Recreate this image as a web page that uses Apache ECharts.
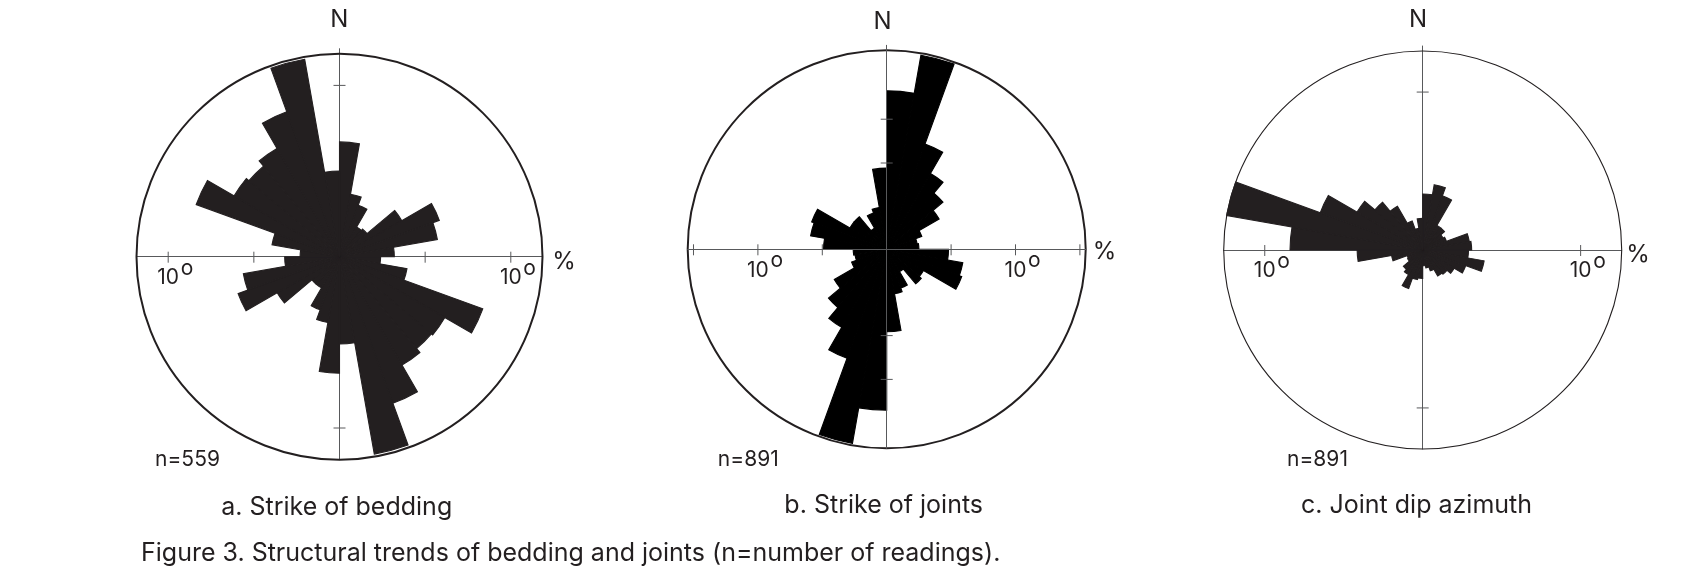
<!DOCTYPE html>
<html>
<head>
<meta charset="utf-8">
<script src="https://cdn.jsdelivr.net/npm/echarts@6/dist/echarts.min.js"></script>
<style>
html,body{margin:0;padding:0;background:#fff;}
#chart{width:1698px;height:586px;}
</style>
</head>
<body>
<div id="chart"></div>
<script>
// 10-degree azimuth bins, clockwise from north
const binLabels = ['0','10','20','30','40','50','60','70','80','90','100','110','120','130','140','150','160','170',
                   '180','190','200','210','220','230','240','250','260','270','280','290','300','310','320','330','340','350'];
// percent of readings per bin
const beddingStrike = [6.7, 3.7, 3.2, 2.0, 2.1, 4.2, 6.2, 5.8, 3.2, 2.4, 4.0, 8.9, 7.1, 7.0, 7.3, 9.1, 11.7, 5.1,
                       6.8, 3.9, 3.3, 2.1, 2.1, 4.2, 6.3, 5.7, 3.2, 2.3, 4.0, 8.9, 7.1, 6.9, 7.3, 9.0, 11.7, 5.0];
const jointStrike = [12.3, 15.3, 8.7, 6.8, 5.7, 4.7, 2.9, 2.4, 2.5, 4.8, 6.0, 6.2, 3.3, 3.5, 2.0, 3.2, 3.5, 6.4,
                     12.5, 15.3, 9.0, 7.0, 5.9, 4.7, 2.9, 2.5, 2.6, 4.9, 6.0, 6.2, 3.3, 3.3, 1.9, 3.0, 3.3, 6.3];
const jointDipAzimuth = [3.55, 4.2, 3.65, 1.8, 1.8, 1.5, 1.6, 3.0, 3.1, 2.9, 3.95, 2.9, 2.3, 2.0, 1.9, 1.4, 1.15, 1.0,
                         1.8, 1.9, 2.6, 1.8, 1.6, 1.1, 1.05, 2.0, 4.15, 8.4, 12.6, 6.9, 4.8, 3.95, 3.2, 1.95, 1.4, 2.0];
// scale maxima (percent at circle edge)
const scaleMax = [11.85, 15.45, 12.6];
// tick positions (percent) on horizontal (E-W) and vertical (N-S) axes
const hTicks = [[5, 10], [5, 10, 15], [10]];
const vTicks = [[10], [6.7, 10.1], [10]];
const labelledTick = 10;
const tickLabel = '10';
const titles = ['a. Strike of bedding', 'b. Strike of joints', 'c. Joint dip azimuth'];
const counts = ['n=559', 'n=891', 'n=891'];
const caption = 'Figure 3. Structural trends of bedding and joints (n=number of readings).';

// ---- layout / style ----
const seriesData = [beddingStrike, jointStrike, jointDipAzimuth];
const centers = [[339.5, 256.7], [886.7, 249.3], [1422.7, 250]];
const radii = [203, 199, 199];
const barColors = ['#231f20', '#000000', '#231f20'];
const circleWidth = [2, 2, 1.1];
const axisColor = '#58595b';
const textColor = '#231f20';
const FONT = 'Inter, "Liberation Sans", Arial, sans-serif';

const polar = [], angleAxis = [], radiusAxis = [], series = [];
const rayAngles = [90, 0, 270, 180]; // N, E, S, W

for (let i = 0; i < 3; i++) {
  const c = centers[i], R = radii[i];
  // main polar: bars + outer circle
  const mainIdx = polar.length;
  polar.push({ center: c, radius: R });
  angleAxis.push({
    polarIndex: mainIdx, type: 'category', data: binLabels, startAngle: 90, clockwise: true,
    axisLine: { show: true, lineStyle: { color: textColor, width: circleWidth[i] } },
    axisTick: { show: false }, axisLabel: { show: false }, splitLine: { show: false }, z: 1
  });
  radiusAxis.push({ polarIndex: mainIdx, type: 'value', min: 0, max: scaleMax[i], show: false });
  series.push({
    type: 'bar', coordinateSystem: 'polar', polarIndex: mainIdx, data: seriesData[i],
    barCategoryGap: '0%', silent: true, animation: false, z: 2,
    itemStyle: { color: barColors[i], borderColor: barColors[i], borderWidth: 1.1 }
  });
  // four rays (cross axes)
  let eastIdx = 0;
  rayAngles.forEach((a) => {
    const idx = polar.length;
    const ext = a === 90 ? 5 : 0;
    polar.push({ center: c, radius: R + ext });
    angleAxis.push({ polarIndex: idx, type: 'value', min: 0, max: 360, startAngle: a, clockwise: true, show: false });
    radiusAxis.push({
      polarIndex: idx, type: 'value', min: 0, max: scaleMax[i] * (R + ext) / R,
      axisLine: { show: true, lineStyle: { color: axisColor, width: 1 } },
      axisTick: { show: false }, axisLabel: { show: false }, splitLine: { show: false },
      z: i === 1 ? 5 : 0
    });
    if (a === 0) eastIdx = idx;
  });
  // ticks and tick labels drawn through the east ray's polar scale
  const tickData = [];
  hTicks[i].forEach(t => { tickData.push([t, 0, t === labelledTick ? 1 : 0]); tickData.push([t, 180, t === labelledTick ? 1 : 0]); });
  vTicks[i].forEach(t => { tickData.push([t, 90, 0]); tickData.push([t, 270, 0]); });
  series.push({
    type: 'custom', coordinateSystem: 'polar', polarIndex: eastIdx, data: tickData, silent: true,
    animation: false, z: 6,
    renderItem: function (params, api) {
      const r = api.value(0), ang = api.value(1), lab = api.value(2);
      const p = api.coord([r, ang]);
      const horiz = (ang === 0 || ang === 180);
      const st = { stroke: axisColor, lineWidth: 1 };
      const ch = [];
      if (horiz) ch.push({ type: 'line', shape: { x1: p[0], y1: p[1] - 5, x2: p[0], y2: p[1] + 6 }, style: st });
      else ch.push({ type: 'line', shape: { x1: p[0] - 6, y1: p[1], x2: p[0] + 6, y2: p[1] }, style: st });
      if (lab) {
        ch.push({ type: 'text', x: p[0], y: p[1] + 21, style: { text: tickLabel, font: '21px ' + FONT, fill: textColor, align: 'center', verticalAlign: 'middle' } });
        ch.push({ type: 'text', x: p[0] + 12.5, y: p[1] + 11.5, style: { text: 'o', font: '21px ' + FONT, fill: textColor, align: 'left', verticalAlign: 'middle' } });
      }
      return { type: 'group', children: ch };
    }
  });
}

const nPos = [[339.2, 20], [882.5, 21.5], [1418, 19.5]];
const pctPos = [[564, 262], [1104.5, 252], [1638, 255]];
const countPos = [[187.5, 460], [748.3, 460], [1317.5, 460]];
const titlePos = [[336.7, 507.5], [883.7, 505], [1416.5, 505]];
const graphic = [];
for (let i = 0; i < 3; i++) {
  graphic.push({ type: 'text', x: nPos[i][0], y: nPos[i][1], style: { text: 'N', font: '24px ' + FONT, fill: textColor, align: 'center', verticalAlign: 'middle' } });
  graphic.push({ type: 'text', x: pctPos[i][0], y: pctPos[i][1], style: { text: '%', font: '24px ' + FONT, fill: textColor, align: 'center', verticalAlign: 'middle' } });
  graphic.push({ type: 'text', x: countPos[i][0], y: countPos[i][1], style: { text: counts[i], font: '21px ' + FONT, fill: textColor, align: 'center', verticalAlign: 'middle' } });
  graphic.push({ type: 'text', x: titlePos[i][0], y: titlePos[i][1], style: { text: titles[i], font: '25px ' + FONT, fill: textColor, align: 'center', verticalAlign: 'middle' } });
}
graphic.push({ type: 'text', x: 141, y: 553, style: { text: caption, font: '25px ' + FONT, fill: textColor, align: 'left', verticalAlign: 'middle' } });

const chart = echarts.init(document.getElementById('chart'), null, { renderer: 'canvas' });
chart.setOption({
  backgroundColor: '#ffffff',
  animation: false,
  polar: polar,
  angleAxis: angleAxis,
  radiusAxis: radiusAxis,
  series: series,
  graphic: graphic
});
</script>
</body>
</html>
